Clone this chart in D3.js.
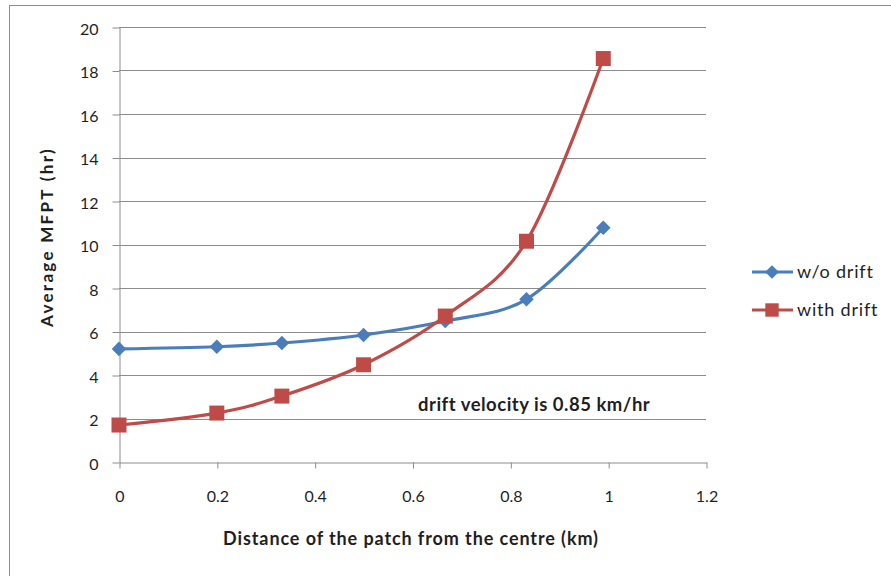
<!DOCTYPE html>
<html>
<head>
<meta charset="utf-8">
<script src="https://cdn.jsdelivr.net/npm/d3@7"></script>
<style>
  html, body { margin: 0; padding: 0; background: #fff; }
  svg { display: block; font-family: Lato, "Open Sans", sans-serif; }
</style>
</head>
<body>
<svg id="chart" width="891" height="576"></svg>
<script>
// Distance of the patch from the centre (km)
const distances = [0, 0.2, 0.333, 0.5, 0.667, 0.833, 0.99];
// Average MFPT (hr) without drift
const woDrift = [5.2, 5.3, 5.47, 5.84, 6.48, 7.48, 10.77];
// Average MFPT (hr) with drift of 0.85 km/hr
const withDrift = [1.7, 2.25, 3.03, 4.47, 6.71, 10.15, 18.55];

const seriesNames = ["w/o drift", "with drift"];
const seriesColors = ["#4a7ebb", "#be4b48"];
const xTicks = [0, 0.2, 0.4, 0.6, 0.8, 1, 1.2];
const yTicks = [0, 2, 4, 6, 8, 10, 12, 14, 16, 18, 20];

const svg = d3.select("#chart");
const gridColor = "#8c8c8c";
const textColor = "#1f1f1f";

// outer chart frame
svg.append("rect")
  .attr("x", 9.5).attr("y", 5.5)
  .attr("width", 900).attr("height", 600)
  .attr("fill", "none").attr("stroke", gridColor).attr("stroke-width", 1);

const x = d3.scaleLinear().domain([0, 1.2]).range([119, 706]);
const y = d3.scaleLinear().domain([0, 20]).range([462, 27]);

// horizontal gridlines
svg.append("g").selectAll("line")
  .data(yTicks.filter(v => v > 0))
  .join("line")
  .attr("x1", x(0)).attr("x2", x(1.2))
  .attr("y1", d => Math.round(y(d)) + 0.5).attr("y2", d => Math.round(y(d)) + 0.5)
  .attr("stroke", gridColor).attr("stroke-width", 1);

// y axis
const yAxis = svg.append("g")
  .attr("transform", `translate(${x(0) + 0.5},0.5)`)
  .call(d3.axisLeft(y).tickValues(yTicks).tickSize(7).tickSizeOuter(0).tickPadding(14));
yAxis.select(".domain").attr("stroke", gridColor);
yAxis.selectAll(".tick line").attr("stroke", gridColor);
yAxis.selectAll(".tick text")
  .attr("font-size", 16).attr("fill", textColor)
  .attr("font-family", "Lato, sans-serif").attr("dy", "0.42em");

// x axis
const xAxis = svg.append("g")
  .attr("transform", `translate(0.5,${y(0) + 0.5})`)
  .call(d3.axisBottom(x).tickValues(xTicks).tickFormat(d3.format("")).tickSize(6).tickSizeOuter(0).tickPadding(22));
xAxis.select(".domain").attr("stroke", gridColor);
xAxis.selectAll(".tick line").attr("stroke", gridColor);
xAxis.selectAll(".tick text")
  .attr("font-size", 16).attr("fill", textColor)
  .attr("font-family", "Lato, sans-serif");

// axis titles
svg.append("text")
  .attr("x", 411).attr("y", 545)
  .attr("text-anchor", "middle")
  .attr("font-size", 18).attr("font-weight", "bold").attr("fill", textColor)
  .attr("letter-spacing", 0.9)
  .text("Distance of the patch from the centre (km)");

svg.append("text")
  .attr("transform", "translate(53,237) rotate(-90)")
  .attr("text-anchor", "middle")
  .attr("font-size", 17).attr("font-weight", "bold").attr("fill", textColor)
  .attr("letter-spacing", 2.3)
  .text("Average MFPT (hr)");

// annotation
svg.append("text")
  .attr("x", 418).attr("y", 411)
  .attr("font-size", 18.5).attr("font-weight", "bold").attr("fill", textColor)
  .attr("letter-spacing", 0.5)
  .text("drift velocity is 0.85 km/hr");

// smoothed series lines
const line = d3.line()
  .x(d => x(d[0])).y(d => y(d[1]))
  .curve(d3.curveCardinal.tension(0));

const series = [woDrift, withDrift].map((vals, i) => ({
  name: seriesNames[i],
  color: seriesColors[i],
  points: distances.map((d, j) => [d, vals[j]])
}));

const diamond = d3.symbol().type(d3.symbolDiamond2).size(135);
const square = d3.symbol().type(d3.symbolSquare).size(225);

series.forEach(s => {
  svg.append("path")
    .datum(s.points)
    .attr("d", line)
    .attr("fill", "none")
    .attr("stroke", s.color)
    .attr("stroke-width", 3.2)
    .attr("stroke-linejoin", "round");
});

series.forEach((s, i) => {
  svg.append("g").selectAll("path")
    .data(s.points)
    .join("path")
    .attr("transform", d => `translate(${x(d[0])},${y(d[1])})`)
    .attr("d", i === 0 ? diamond : square)
    .attr("fill", s.color);
});

// legend
const legend = svg.append("g");
series.forEach((s, i) => {
  const ly = 272 + i * 38;
  legend.append("line")
    .attr("x1", 752).attr("x2", 793)
    .attr("y1", ly).attr("y2", ly)
    .attr("stroke", s.color).attr("stroke-width", 3.2);
  legend.append("path")
    .attr("transform", `translate(772,${ly})`)
    .attr("d", i === 0 ? d3.symbol().type(d3.symbolDiamond2).size(120) : d3.symbol().type(d3.symbolSquare).size(180))
    .attr("fill", s.color);
  legend.append("text")
    .attr("x", 797).attr("y", ly + 6)
    .attr("font-size", 18).attr("fill", textColor)
    .attr("letter-spacing", 0.8)
    .text(s.name);
});
</script>
</body>
</html>
